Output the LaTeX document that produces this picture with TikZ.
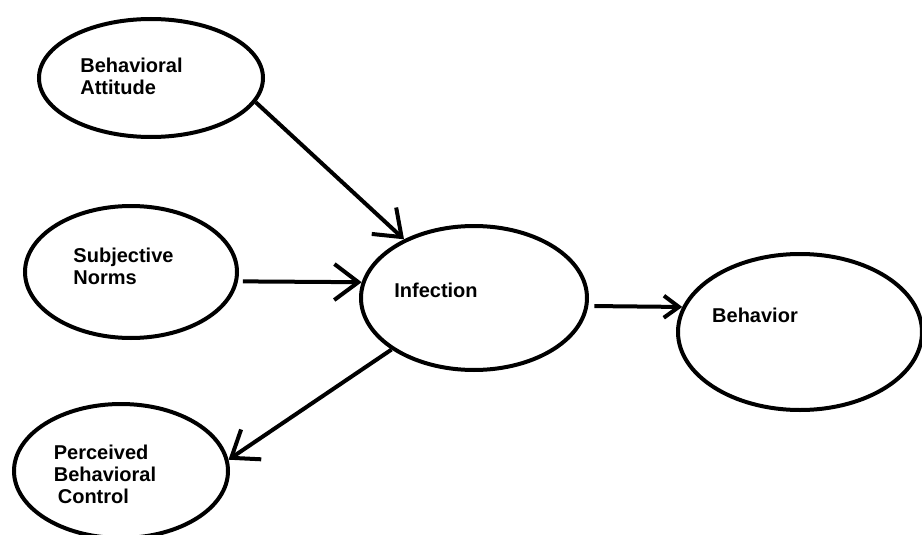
\documentclass[tikz,border=0pt]{standalone}
\usepackage{fontspec}
\setmainfont{Liberation Sans}
\usetikzlibrary{shapes,arrows.meta}

\begin{document}
\begin{tikzpicture}[%
    x=1pt, y=-1pt,
    ->,
    >={Straight Barb[length=24pt,width=36pt]},
    line width=4pt,
    construct/.style={%
      ellipse,
      inner sep=0pt,
      draw
    },
    every label/.style={%
      font=\bfseries\fontsize{20}{22}\selectfont,
      align=left,
      inner sep=0pt
    }
  ]
  \useasboundingbox (0,0) rectangle (922,535);
  % Nodes: 
    \node[construct, minimum width=224pt, minimum height=118pt,
          label={[xshift=-19.5pt, yshift=1.5pt]center:Behavioral\\Attitude}]
          (att) at (151,78) {};
    \node[construct, minimum width=212pt, minimum height=132pt,
          label={[xshift=-7.5pt, yshift=6pt]center:Subjective\\Norms}]
          (sub) at (131,272) {};
    \node[construct, minimum width=226pt, minimum height=144pt,
          label={[xshift=-38pt, yshift=7.5pt]center:Infection}]
          (inf) at (474,298) {};
    \node[construct, minimum width=244pt, minimum height=156pt,
          label={[xshift=-45pt, yshift=17pt]center:Behavior}]
          (beh) at (800,332) {};
    \node[construct, minimum width=214pt, minimum height=134pt,
          label={[xshift=-16pt, yshift=-3pt]center:Perceived\\Behavioral\\\hspace*{4pt}Control}]
          (per) at (121,471) {};
  % Paths: 
    \path (att.-13) edge (inf.140)
          (sub.-5)  edge[shorten <=5pt] (inf.172)
          (inf.-4)  edge[shorten <=6pt, -{Straight Barb[length=15pt,width=22pt]}] (beh.168)
          (inf.212) edge (per.6);
\end{tikzpicture}
\end{document}
